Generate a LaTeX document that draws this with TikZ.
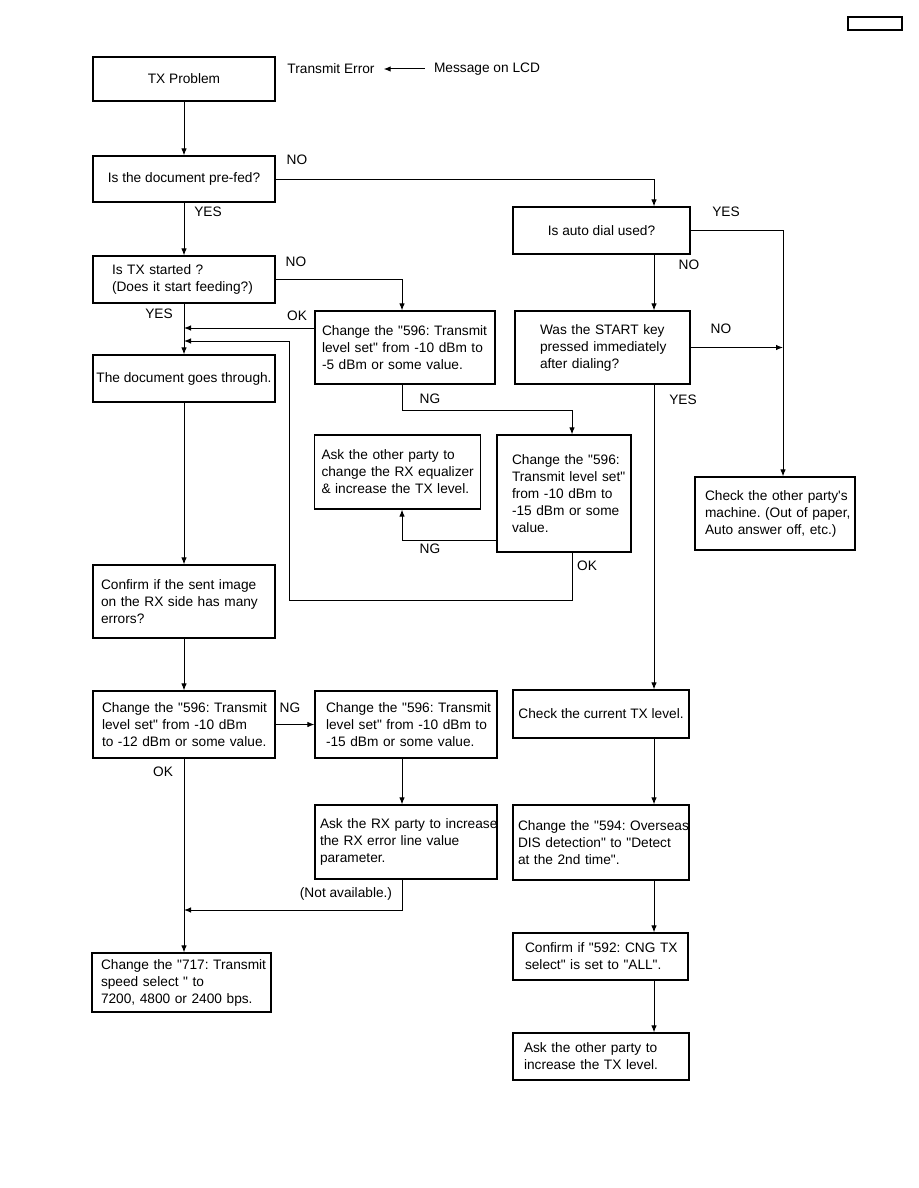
\documentclass[tikz,border=0pt]{standalone}
\usepackage{fontspec}
\newfontfamily\chartfont{Liberation Sans}
\usepackage{tikz}
\usetikzlibrary{arrows.meta, calc}

\tikzset{
  stepbox/.style={draw, line width=1.2pt, inner ysep=0pt, font=\chartfont\fontsize{13.7}{17}\selectfont\frenchspacing},
  leftbox/.style={stepbox, align=left,
    execute at begin node={\rightskip=0pt plus 1fil minus 40pt\hyphenpenalty=10000\relax}},
  midbox/.style={stepbox, align=center},
  flow/.style={line width=1pt, ->},
  tag/.style={inner sep=0pt, font=\chartfont\fontsize{13.7}{17}\selectfont}
}

\begin{document}
\begin{tikzpicture}[x=1pt, y=-1pt, >={Latex[length=7pt,width=5.5pt]}]
  \useasboundingbox (0,0) rectangle (918,1188);

  % column guides
  \coordinate (mc) at (402,0);
  \coordinate (nc) at (572,0);
  \coordinate (rc) at (654,0);
  \coordinate (oc) at (783,0);

  % page box
  \node[draw, line width=1.2pt, minimum width=54pt, minimum height=13pt, inner sep=0pt] (pgbox) at (875,23.5) {};

  % left column
  \node[midbox, minimum width=182pt, minimum height=44pt] (tx) at (184,79) {TX Problem};
  \node[midbox, minimum width=182pt, minimum height=46pt] (prefed) at (184,179) {Is the document pre-fed?};
  \node[leftbox, text width=144pt, inner xsep=19pt, minimum height=47pt] (started) at (184,279.5) {Is TX started ?\\(Does it start feeding?)};
  \node[midbox, minimum width=182pt, minimum height=47pt] (through) at (184,378.5) {The document goes through.};
  \node[leftbox, text width=166pt, inner xsep=8pt, minimum height=73pt] (confirm) at (184,601.5) {Confirm if the sent image\\on the RX side has many\\errors?};
  \node[leftbox, text width=164pt, inner xsep=9pt, minimum height=67pt] (chg12) at (184,724.5) {Change the "596: Transmit\\level set" from -10 dBm\\to -12 dBm or some value.};
  \node[leftbox, text width=161pt, inner xsep=9pt, minimum height=59pt] (speed) at (181.5,982.5) {Change the "717: Transmit\\speed select " to\\7200, 4800 or 2400 bps.};

  % middle column
  \node[leftbox, text width=166pt, inner xsep=7pt, minimum height=73pt] (chg5) at (405,347.5) {Change the "596: Transmit\\level set" from -10 dBm to\\-5 dBm or some value.};
  \node[leftbox, text width=152pt, inner xsep=7pt, minimum height=74pt] (equal) at (397.5,472) {Ask the other party to\\change the RX equalizer\\\& increase the TX level.};
  \node[leftbox, text width=104pt, inner xsep=15pt, minimum height=117pt] (chg15a) at (564,493.5) {Change the "596:\\Transmit level set"\\from -10 dBm to\\-15 dBm or some\\value.};
  \node[leftbox, text width=160pt, inner xsep=11pt, minimum height=67pt] (chg15b) at (406,724.5) {Change the "596: Transmit\\level set" from -10 dBm to\\-15 dBm or some value.};
  \node[leftbox, text width=172pt, inner xsep=5pt, minimum height=74pt] (rxparty) at (406,842) {Ask the RX party to increase\\the RX error line value\\parameter.};

  % right column
  \node[midbox, minimum width=177pt, minimum height=47pt] (autodial) at (601.5,230.5) {Is auto dial used?};
  \node[leftbox, text width=125pt, inner xsep=25pt, minimum height=73pt] (startkey) at (602.5,347.5) {Was the START key\\pressed immediately\\after dialing?};
  \node[leftbox, text width=140pt, inner xsep=10pt, minimum height=73pt] (otherm) at (775,513.5) {Check the other party's\\machine. (Out of paper,\\Auto answer off, etc.)};
  \node[midbox, minimum width=176pt, minimum height=48pt] (curlev) at (601,714) {Check the current TX level.};
  \node[leftbox, text width=166pt, inner xsep=5pt, minimum height=75pt] (dis) at (601,842.5) {Change the "594: Overseas\\DIS detection" to "Detect\\at the 2nd time".};
  \node[leftbox, text width=151pt, inner xsep=12pt, minimum height=47pt] (cng) at (600.5,956.5) {Confirm if "592: CNG TX\\select" is set to "ALL".};
  \node[leftbox, text width=154pt, inner xsep=11pt, minimum height=47pt] (incr) at (601,1056.5) {Ask the other party to\\increase the TX level.};

  % message note
  \node[tag] (errmsg) at (331,69) {Transmit Error};
  \node[tag] (lcd) at (487,69) {Message on LCD};
  \draw[flow, shorten >=9pt, shorten <=9pt] (lcd) -- (errmsg);

  % branch labels
  \node[tag] (no1) at (297,160) {NO};
  \node[tag] (yes1) at (208,212) {YES};
  \node[tag] (no2) at (296,262) {NO};
  \node[tag] (yes2) at (159,314) {YES};
  \node[tag] (ok1) at (297,316) {OK};
  \node[tag] (ng1) at (430,399) {NG};
  \node[tag] (ng2) at (430,549) {NG};
  \node[tag] (ok2) at (587,566) {OK};
  \node[tag] (yes3) at (726,212) {YES};
  \node[tag] (no3) at (689,265) {NO};
  \node[tag] (no4) at (721,329) {NO};
  \node[tag] (yes4) at (683,400) {YES};
  \node[tag] (ng3) at (290,708) {NG};
  \node[tag] (ok3) at (163,772) {OK};
  \node[tag] (notav) at (346,894) {(Not available.)};

  % join points on the left trunk
  \coordinate (okin) at (184,328);
  \coordinate (backin) at (184,341);
  \coordinate (back) at (289,600);
  \coordinate (nain) at (184,910);

  % connectors
  \draw[flow] (tx) -- (prefed);
  \draw[flow] (prefed) -- (started);
  \draw[flow] (started) -- (through);
  \draw[flow] (through) -- (confirm);
  \draw[flow] (confirm) -- (chg12);
  \draw[flow] (chg12) -- (chg12 |- speed.north);
  \draw[flow] (chg12) -- (chg15b);
  \draw[flow] (prefed.east) -| (autodial.north -| rc);
  \draw[flow] (started.east) -| (chg5.north -| mc);
  \draw[flow] (chg5.west |- okin) -- (okin);
  \draw[flow] (chg5.south -| mc) -- ++(0,26) -| (chg15a.north -| nc);
  \draw[flow] ([yshift=-46.5pt]chg15a.west) -| (equal.south -| mc);
  \draw[flow] (chg15a.south -| nc) |- (back) |- (backin);
  \draw[flow] (chg15b.south -| mc) -- (rxparty.north -| mc);
  \draw[flow] (rxparty.south -| mc) |- (nain);
  \draw[flow] (autodial.east) -| (otherm.north -| oc);
  \draw[flow] (autodial.south -| rc) -- (startkey.north -| rc);
  \draw[flow] (startkey.east) -- (startkey.east -| oc);
  \draw[flow] (startkey.south -| rc) -- (curlev.north -| rc);
  \draw[flow] (curlev.south -| rc) -- (dis.north -| rc);
  \draw[flow] (dis.south -| rc) -- (cng.north -| rc);
  \draw[flow] (cng.south -| rc) -- (incr.north -| rc);
\end{tikzpicture}
\end{document}
